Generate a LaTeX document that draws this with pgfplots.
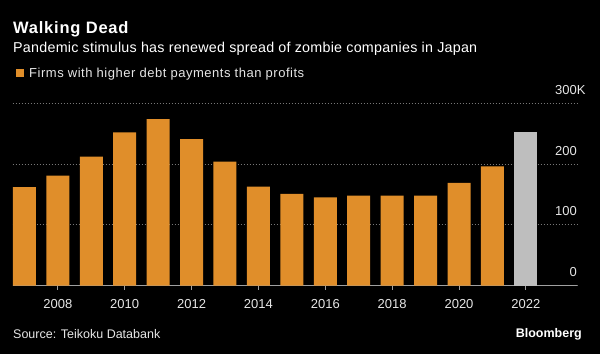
\documentclass[border=0pt]{standalone}
\usepackage{pgfplots}
\pgfplotsset{compat=1.18}
\usepackage{fontspec}
\setmainfont{Liberation Sans}
\definecolor{barorange}{HTML}{E08E2A}
\definecolor{bargray}{HTML}{BEBEBE}
\definecolor{txt}{HTML}{E6E6E6}
\definecolor{gridc}{HTML}{777777}
\definecolor{axisc}{HTML}{A0A0A0}
\begin{document}
\begin{tikzpicture}[x=1bp,y=1bp]
\fill[black] (0,0) rectangle (600,354);
\begin{axis}[
  at={(12.7bp,68.5bp)}, anchor=south west,
  scale only axis, width=564.3bp, height=182.2bp,
  xmin=2006.65, xmax=2023.53, ymin=0, ymax=300,
  axis x line*=bottom, axis y line*=right,
  x axis line style={draw=axisc, line width=0.8bp},
  y axis line style={draw=none},
  xtick={2008,2010,2012,2014,2016,2018,2020,2022},
  xticklabels={2008,2010,2012,2014,2016,2018,2020,2022},
  x tick style={draw=axisc, line width=0.8bp},
  xtick align=outside, xtick pos=bottom,
  major tick length=4bp,
  ytick={0,100,200,300},
  yticklabels={0,100,200,300\rlap{K}},
  y tick style={draw=none},
  ymajorgrids, grid style={draw=gridc, line width=0.6bp, dash pattern=on 1bp off 2bp},
  yticklabel style={anchor=south east, inner sep=0pt, yshift=8.5bp, text=txt, font=\fontsize{13bp}{15bp}\selectfont},
  xticklabel style={text=txt, yshift=-6bp, font=\fontsize{13bp}{15bp}\selectfont},
  ybar, bar width=23bp,
]
\addplot[fill=barorange, draw=none, bar shift=0pt] coordinates {
(2007,162) (2008,181) (2009,212) (2010,252) (2011,274) (2012,241) (2013,204)
(2014,163) (2015,151) (2016,145) (2017,148) (2018,148) (2019,148) (2020,169) (2021,196)};
\addplot[fill=bargray, draw=none, bar shift=0pt] coordinates {(2022,252)};
\end{axis}
\node[anchor=base west, inner sep=0pt, text=white, font=\fontsize{16.5bp}{20bp}\selectfont\bfseries\addfontfeatures{LetterSpace=4.7}] at (13,320.5) {Walking Dead};
\node[anchor=base west, inner sep=0pt, text=white, font=\fontsize{14.3bp}{17bp}\selectfont\addfontfeatures{LetterSpace=1.7}] at (13,302) {Pandemic stimulus has renewed spread of zombie companies in Japan};
\fill[barorange] (15.5,276.7) rectangle (24,285);
\node[anchor=base west, inner sep=0pt, text=txt, font=\fontsize{13bp}{15bp}\selectfont\addfontfeatures{LetterSpace=4}] at (29,276.7) {Firms with higher debt payments than profits};
\node[anchor=base west, inner sep=0pt, text=txt, font=\fontsize{12.5bp}{15bp}\selectfont] at (13,15.7) {Source: Teikoku Databank};
\node[anchor=base east, inner sep=0pt, text=white, font=\fontsize{12.5bp}{15bp}\selectfont\bfseries] at (582,16.7) {Bloomberg};
\end{tikzpicture}
\end{document}
